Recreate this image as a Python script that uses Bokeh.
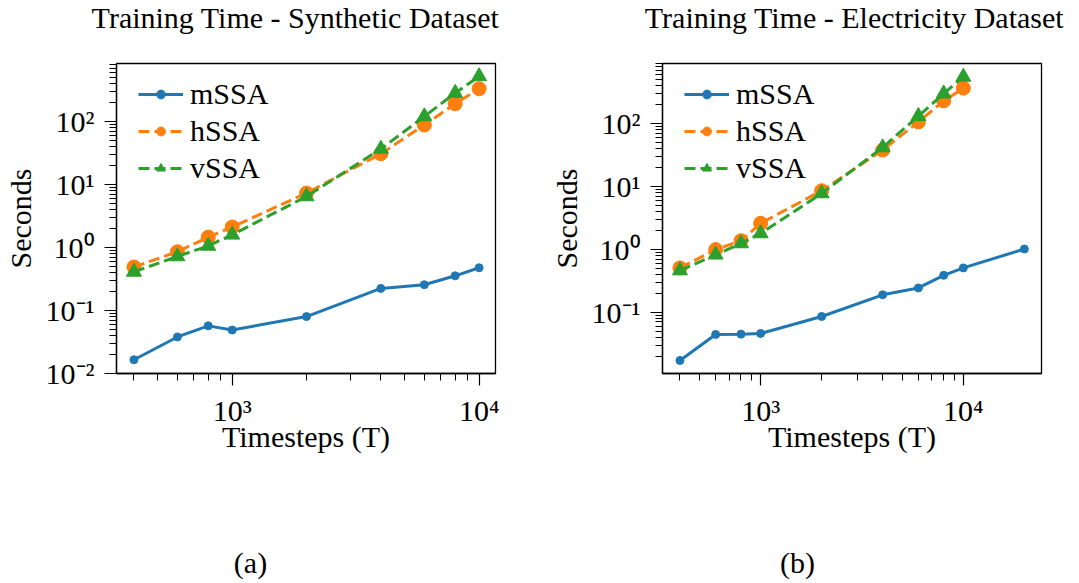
from bokeh.plotting import figure
from bokeh.layouts import row, column
from bokeh.models import (Range1d, FixedTicker, CustomJSTickFormatter, Legend, LegendItem)
from bokeh.core.properties import value
from bokeh.embed import file_html
from bokeh.resources import INLINE

# ---------------- data ----------------
T_a = [400, 600, 800, 1000, 2000, 4000, 6000, 8000, 10000]
mssa_a = [0.0165, 0.038, 0.057, 0.049, 0.080, 0.224, 0.256, 0.355, 0.476]
hssa_a = [0.49, 0.855, 1.46, 2.11, 7.3, 30.7, 87.7, 191, 330]
vssa_a = [0.41, 0.72, 1.06, 1.59, 6.45, 36.5, 120, 282, 518]

T_b_m = [400, 600, 800, 1000, 2000, 4000, 6000, 8000, 10000, 20000]
mssa_b = [0.0171, 0.0443, 0.0448, 0.0459, 0.0855, 0.189, 0.243, 0.386, 0.506, 1.01]
T_b = [400, 600, 800, 1000, 2000, 4000, 6000, 8000, 10000]
hssa_b = [0.506, 0.99, 1.37, 2.59, 8.55, 37.8, 106, 229, 365]
vssa_b = [0.46, 0.82, 1.24, 1.79, 7.74, 41.6, 131, 299, 551]

titles = ["Training Time - Synthetic Dataset", "Training Time - Electricity Dataset"]
captions = ["(a)", "(b)"]
series_names = ["mSSA", "hSSA", "vSSA"]
x_major = [1000, 10000]

FONT = "Liberation Serif"
BLUE, ORANGE, GREEN = "#1f77b4", "#ff7f0e", "#2ca02c"
FW, FH = 379, 310
W = 1079
TITLE_H, PANEL_H, CAP_H = 50, 420, 113

sup_fmt = CustomJSTickFormatter(code=r"""
const e = Math.round(Math.log10(tick));
const sup = {'-':'\u207B','0':'\u2070','1':'\u00B9','2':'\u00B2','3':'\u00B3','4':'\u2074','5':'\u2075','6':'\u2076','7':'\u2077','8':'\u2078','9':'\u2079'};
return '10' + String(e).split('').map(c => sup[c]).join('');
""")


def text_fig(h, txts, cxs, baseline_from_top):
    f = figure(width=W, height=h, x_range=Range1d(0, W), y_range=Range1d(0, h),
               x_axis_type=None, y_axis_type=None, min_border=0,
               output_backend="svg", toolbar_location=None)
    f.outline_line_color = None
    f.grid.visible = False
    f.background_fill_color = "white"
    f.border_fill_color = "white"
    f.text(x=cxs, y=[h - baseline_from_top] * len(txts), text=txts,
           text_font=value(FONT), text_font_size="30px", text_color="black",
           text_align="center", text_baseline="alphabetic")
    return f


def make_panel(xr, yr, Tm, m, Th, h, v, bl, br):
    p = figure(x_axis_type="log", y_axis_type="log",
               x_range=Range1d(*xr), y_range=Range1d(*yr),
               frame_width=FW, frame_height=FH,
               min_border_left=bl, min_border_right=br,
               min_border_top=13, min_border_bottom=PANEL_H - 13 - FH,
               output_backend="svg", toolbar_location=None, title=None)
    p.background_fill_color = "white"
    p.border_fill_color = "white"
    p.outline_line_color = "black"
    p.outline_line_width = 1.3
    p.grid.visible = False

    for ax in (p.xaxis[0], p.yaxis[0]):
        ax.axis_line_color = "black"
        ax.axis_line_width = 1.3
        ax.major_tick_line_color = "black"
        ax.minor_tick_line_color = "black"
        ax.major_tick_line_width = 1.2
        ax.minor_tick_line_width = 1.0
        ax.major_tick_out = 12
        ax.major_tick_in = 0
        ax.minor_tick_out = 7
        ax.minor_tick_in = 0
        ax.major_label_text_font = FONT
        ax.major_label_text_font_size = "30px"
        ax.major_label_text_color = "black"
        ax.axis_label_text_font = FONT
        ax.axis_label_text_font_size = "30px"
        ax.axis_label_text_font_style = "normal"
        ax.axis_label_text_color = "black"
        ax.formatter = sup_fmt

    p.xaxis[0].ticker = FixedTicker(
        ticks=x_major,
        minor_ticks=[k * 10 ** d for d in (2, 3) for k in range(2, 10)])
    p.xaxis[0].axis_label = "Timesteps (T)"
    p.xaxis[0].major_label_standoff = 8
    p.xaxis[0].axis_label_standoff = -10
    p.yaxis[0].axis_label = "Seconds"
    p.yaxis[0].major_label_standoff = 10
    p.yaxis[0].axis_label_standoff = 6
    p.yaxis[0].ticker.num_minor_ticks = 10

    r1 = p.line(Tm, m, line_color=BLUE, line_width=3)
    s1 = p.scatter(Tm, m, marker="circle", size=8, fill_color=BLUE, line_color=BLUE)
    r2 = p.line(Th, h, line_color=ORANGE, line_width=3, line_dash="11 5")
    s2 = p.scatter(Th, h, marker="circle", size=14, fill_color=ORANGE, line_color=ORANGE)
    r3 = p.line(Th, v, line_color=GREEN, line_width=3, line_dash="11 5")
    s3 = p.scatter(Th, v, marker="triangle", size=15, fill_color=GREEN, line_color=GREEN)

    legend = Legend(items=[
        LegendItem(label=series_names[0], renderers=[r1, s1]),
        LegendItem(label=series_names[1], renderers=[r2, s2]),
        LegendItem(label=series_names[2], renderers=[r3, s3]),
    ], location=(22, 188))
    legend.label_text_font = FONT
    legend.label_text_font_size = "30px"
    legend.label_text_color = "black"
    legend.border_line_alpha = 0
    legend.background_fill_alpha = 0
    legend.glyph_width = 45
    legend.glyph_height = 22
    legend.label_height = 30
    legend.spacing = 3
    legend.label_standoff = 7
    legend.padding = 0
    legend.margin = 0
    p.add_layout(legend, "center")
    return p


WA, WB = 540, 539
pa = make_panel((340, 11650), (0.01, 830), T_a, mssa_a, T_a, hssa_a, vssa_a,
                115, WA - 115 - FW)
pb = make_panel((328, 24300), (0.0106, 900), T_b_m, mssa_b, T_b, hssa_b, vssa_b,
                121, WB - 121 - FW)

title_row = text_fig(TITLE_H, titles, [295, 854], 17)
cap_row = text_fig(CAP_H, captions, [250, 797], 92)

layout = column(title_row, row(pa, pb), cap_row)
open("out.html", "w").write(file_html(layout, INLINE))
